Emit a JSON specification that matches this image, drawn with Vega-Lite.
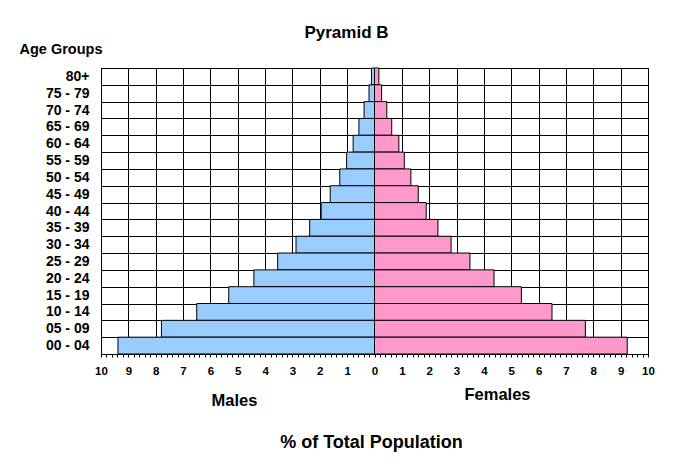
{
  "$schema": "https://vega.github.io/schema/vega-lite/v6.json",
  "width": 547,
  "height": 286,
  "autosize": {"type": "none"},
  "padding": {"left": 101, "top": 68, "right": 35, "bottom": 116},
  "background": "white",
  "config": {
    "font": "Liberation Sans",
    "view": {"stroke": "black", "strokeWidth": 1},
    "axis": {"labelFont": "Liberation Sans", "titleFont": "Liberation Sans", "labelColor": "black", "titleColor": "black", "labelFontWeight": "bold", "titleFontWeight": "bold"}
  },
  "title": {"text": "Pyramid B", "font": "Liberation Sans", "fontSize": 17, "fontWeight": "bold", "color": "black", "anchor": "middle", "dx": -28, "offset": -1},
  "data": {
    "values": [
      {"age": "80+", "sex": "Males", "value": -0.11},
      {"age": "75 - 79", "sex": "Males", "value": -0.2},
      {"age": "70 - 74", "sex": "Males", "value": -0.38},
      {"age": "65 - 69", "sex": "Males", "value": -0.57},
      {"age": "60 - 64", "sex": "Males", "value": -0.78},
      {"age": "55 - 59", "sex": "Males", "value": -1.02},
      {"age": "50 - 54", "sex": "Males", "value": -1.27},
      {"age": "45 - 49", "sex": "Males", "value": -1.62},
      {"age": "40 - 44", "sex": "Males", "value": -1.95},
      {"age": "35 - 39", "sex": "Males", "value": -2.37},
      {"age": "30 - 34", "sex": "Males", "value": -2.87},
      {"age": "25 - 29", "sex": "Males", "value": -3.54},
      {"age": "20 - 24", "sex": "Males", "value": -4.41},
      {"age": "15 - 19", "sex": "Males", "value": -5.33},
      {"age": "10 - 14", "sex": "Males", "value": -6.5},
      {"age": "05 - 09", "sex": "Males", "value": -7.79},
      {"age": "00 - 04", "sex": "Males", "value": -9.38},
      {"age": "80+", "sex": "Females", "value": 0.16},
      {"age": "75 - 79", "sex": "Females", "value": 0.26},
      {"age": "70 - 74", "sex": "Females", "value": 0.45},
      {"age": "65 - 69", "sex": "Females", "value": 0.63},
      {"age": "60 - 64", "sex": "Females", "value": 0.89},
      {"age": "55 - 59", "sex": "Females", "value": 1.09},
      {"age": "50 - 54", "sex": "Females", "value": 1.33},
      {"age": "45 - 49", "sex": "Females", "value": 1.6},
      {"age": "40 - 44", "sex": "Females", "value": 1.89},
      {"age": "35 - 39", "sex": "Females", "value": 2.32},
      {"age": "30 - 34", "sex": "Females", "value": 2.8},
      {"age": "25 - 29", "sex": "Females", "value": 3.49},
      {"age": "20 - 24", "sex": "Females", "value": 4.37},
      {"age": "15 - 19", "sex": "Females", "value": 5.37},
      {"age": "10 - 14", "sex": "Females", "value": 6.49},
      {"age": "05 - 09", "sex": "Females", "value": 7.71},
      {"age": "00 - 04", "sex": "Females", "value": 9.24}
    ]
  },
  "layer": [
    {
      "transform": [{"filter": "datum.sex == 'Males'"}],
      "mark": {"type": "bar", "stroke": "black", "strokeWidth": 1, "opacity": 1},
      "encoding": {
        "y": {
          "field": "age", "type": "nominal",
          "sort": ["80+", "75 - 79", "70 - 74", "65 - 69", "60 - 64", "55 - 59", "50 - 54", "45 - 49", "40 - 44", "35 - 39", "30 - 34", "25 - 29", "20 - 24", "15 - 19", "10 - 14", "05 - 09", "00 - 04"],
          "scale": {"paddingInner": 0, "paddingOuter": 0},
          "axis": {"title": "Age Groups", "titleAngle": 0, "titleAlign": "left", "titleBaseline": "middle", "titleX": -82, "titleY": -19, "titleFontSize": 14.5, "labelFontSize": 14, "labelPadding": 12, "ticks": false, "domain": false, "grid": true, "tickBand": "extent", "gridColor": "black", "gridOpacity": 1, "gridWidth": 1}
        },
        "x": {
          "field": "value", "type": "quantitative",
          "scale": {"domain": [-10, 10], "nice": false, "zero": false},
          "axis": {
            "orient": "bottom",
            "values": [-10, -9.8, -9.6, -9.4, -9.2, -9, -8.8, -8.6, -8.4, -8.2, -8, -7.8, -7.6, -7.4, -7.2, -7, -6.8, -6.6, -6.4, -6.2, -6, -5.8, -5.6, -5.4, -5.2, -5, -4.8, -4.6, -4.4, -4.2, -4, -3.8, -3.6, -3.4, -3.2, -3, -2.8, -2.6, -2.4, -2.2, -2, -1.8, -1.6, -1.4, -1.2, -1, -0.8, -0.6, -0.4, -0.2, 0, 0.2, 0.4, 0.6, 0.8, 1, 1.2, 1.4, 1.6, 1.8, 2, 2.2, 2.4, 2.6, 2.8, 3, 3.2, 3.4, 3.6, 3.8, 4, 4.2, 4.4, 4.6, 4.8, 5, 5.2, 5.4, 5.6, 5.8, 6, 6.2, 6.4, 6.6, 6.8, 7, 7.2, 7.4, 7.6, 7.8, 8, 8.2, 8.4, 8.6, 8.8, 9, 9.2, 9.4, 9.6, 9.8, 10],
            "labelExpr": "abs(datum.value - round(datum.value)) < 0.01 ? format(abs(round(datum.value)), 'd') : ''",
            "labelOverlap": false,
            "labelBound": false,
            "labelFlush": false,
            "labelFontSize": 11.5,
            "labelPadding": 8,
            "tickSize": 3,
            "tickColor": "black",
            "domainColor": "black",
            "grid": true,
            "gridColor": "black",
            "gridWidth": 1,
            "gridOpacity": {"condition": {"test": "abs(datum.value - round(datum.value)) < 0.01", "value": 1}, "value": 0},
            "title": "Males",
            "titleFontSize": 16.5,
            "titleAnchor": null,
            "titleAlign": "center",
            "titleBaseline": "alphabetic",
            "titleX": 133,
            "titleY": 51
          }
        },
        "color": {"field": "sex", "type": "nominal", "scale": {"domain": ["Males", "Females"], "range": ["#99CCFF", "#FF99CC"]}, "legend": null}
      }
    },
    {
      "transform": [{"filter": "datum.sex == 'Females'"}],
      "mark": {"type": "bar", "stroke": "black", "strokeWidth": 1, "opacity": 1},
      "encoding": {
        "y": {
          "field": "age", "type": "nominal",
          "sort": ["80+", "75 - 79", "70 - 74", "65 - 69", "60 - 64", "55 - 59", "50 - 54", "45 - 49", "40 - 44", "35 - 39", "30 - 34", "25 - 29", "20 - 24", "15 - 19", "10 - 14", "05 - 09", "00 - 04"],
          "scale": {"paddingInner": 0, "paddingOuter": 0},
          "axis": {"title": "Age Groups", "titleAngle": 0, "titleAlign": "left", "titleBaseline": "middle", "titleX": -82, "titleY": -19, "titleFontSize": 14.5, "labelFontSize": 14, "labelPadding": 12, "ticks": false, "domain": false, "grid": true, "tickBand": "extent", "gridColor": "black", "gridOpacity": 1, "gridWidth": 1}
        },
        "x": {
          "field": "value", "type": "quantitative",
          "scale": {"domain": [-10, 10], "nice": false, "zero": false},
          "axis": {"orient": "bottom", "labels": false, "ticks": false, "domain": false, "grid": false, "title": "Females", "titleFontSize": 16.5, "titleAnchor": null, "titleAlign": "center", "titleBaseline": "alphabetic", "titleX": 396, "titleY": 45}
        },
        "color": {"field": "sex", "type": "nominal", "scale": {"domain": ["Males", "Females"], "range": ["#99CCFF", "#FF99CC"]}, "legend": null}
      }
    },
    {
      "mark": {"type": "rule", "color": "black", "strokeWidth": 1},
      "encoding": {
        "x": {
          "datum": 0, "type": "quantitative",
          "scale": {"domain": [-10, 10], "nice": false, "zero": false},
          "axis": {"orient": "bottom", "labels": false, "ticks": false, "domain": false, "grid": false, "title": "% of Total Population", "titleFontSize": 18, "titleAnchor": null, "titleAlign": "center", "titleBaseline": "alphabetic", "titleX": 270, "titleY": 93}
        }
      }
    }
  ],
  "resolve": {"axis": {"x": "independent"}}
}
